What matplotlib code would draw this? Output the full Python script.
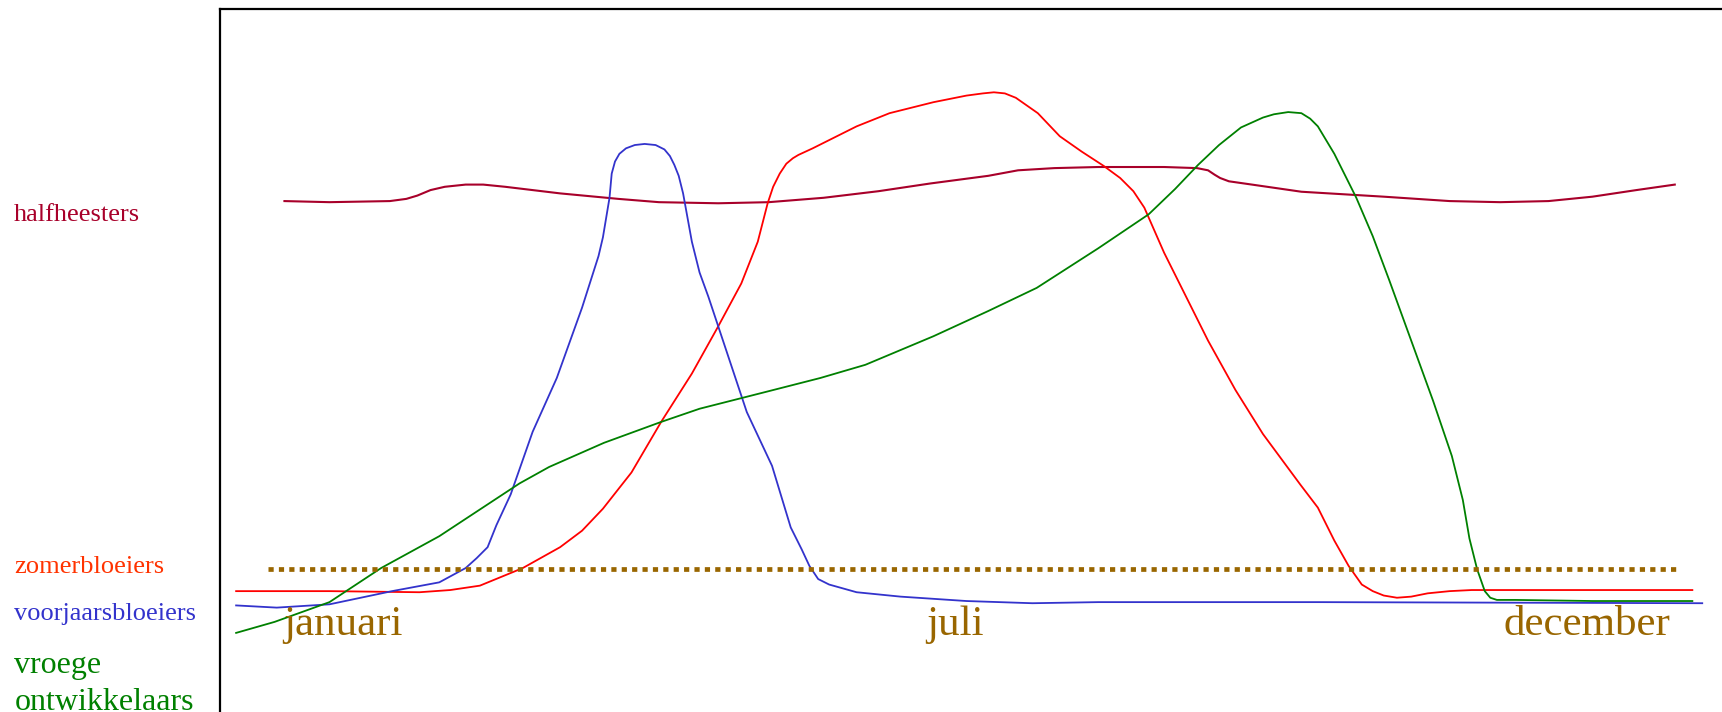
import matplotlib
matplotlib.use('Agg')
import matplotlib.pyplot as plt

plt.rcParams['font.family'] = ['Liberation Serif', 'DejaVu Serif']

# schematic bloom curves: x = position in the year (axis units), y = height
half_x = [259, 300, 355, 370, 380, 392, 405, 424, 440, 460, 510, 563, 600, 654, 700, 750, 800,
          847, 900, 927, 960, 1000, 1060, 1090, 1100, 1106, 1111, 1119, 1140, 1185, 1260, 1320,
          1366, 1410, 1450, 1490, 1525]
half_y = [465, 464, 465, 467, 470, 475, 478, 480, 480, 478, 472, 467, 464, 463, 464, 468, 474,
          481, 488, 493, 495, 496, 496, 495, 493, 489, 486, 483, 480, 473.5, 469, 465,
          464, 465, 469, 475, 480]

zomer_x = [215, 300, 382, 410, 437, 476, 510, 530, 549, 575, 602, 630, 654, 675, 690, 699, 704,
           710, 716, 722, 727, 740, 750, 780, 810, 850, 880, 895, 905, 915, 925, 935, 945, 965,
           985, 1005, 1020, 1032, 1042, 1060, 1080, 1100, 1125, 1150, 1184, 1200, 1215, 1228,
           1240, 1250, 1260, 1272, 1285, 1300, 1320, 1340, 1541]
zomer_y = [110, 110, 109, 111, 115, 131, 150, 165, 185, 218, 264, 308, 351, 390, 428, 463, 478,
           490, 499, 504, 507, 513, 518, 533, 545, 555, 561, 563, 564, 563, 559, 552, 545, 524,
           510, 497, 486, 474, 459, 418, 378, 338, 293, 253, 207, 186, 156, 133,
           116, 110, 106, 104, 105, 108, 110, 111, 111]

voorjaar_x = [215, 252, 300, 357, 400, 424, 434, 444, 452, 465, 485, 507, 530, 545, 549, 552, 555,
              557, 560, 564, 570, 578, 587, 597, 605, 610, 614, 618, 622, 626, 630, 637, 645, 660,
              680, 703, 720, 730, 737, 745, 755, 780, 820, 880, 940, 1000, 1200, 1550]
voorjaar_y = [97, 95, 98, 110, 118, 131, 140, 150, 170, 198, 255, 304, 368, 415, 432, 450, 468,
              490, 501, 508, 513, 516, 517, 516, 512, 506, 498, 488, 472, 450, 428, 400, 378, 333,
              273, 224, 168, 148, 133, 121, 116, 109, 105, 101, 99, 100, 100, 99]

vroeg_x = [215, 250, 300, 347, 400, 473, 500, 550, 602, 637, 700, 747, 788, 850, 900, 944, 1000,
           1046, 1070, 1091, 1110, 1130, 1150, 1160, 1173, 1185, 1193, 1200, 1215, 1235, 1250,
           1265, 1285, 1305, 1322, 1332, 1338, 1345, 1352, 1357, 1363, 1380, 1450, 1541]
vroeg_y = [72, 82, 100, 131, 160, 208, 223, 245, 264, 276, 292, 304, 316, 342, 365, 386, 422,
           453, 476, 498, 516, 532, 541, 544, 546, 545, 540, 533, 508, 468, 433,
           393, 338, 283, 233, 193, 158, 130, 110, 104, 102, 102, 101, 101]

groups = ['halfheesters', 'zomerbloeiers', 'voorjaarsbloeiers', 'vroege\nontwikkelaars']
months = ['januari', 'juli', 'december']
month_x = [258, 843, 1369]
threshold = 130

fig = plt.figure(figsize=(17.22, 7.12), dpi=100)
ax = fig.add_axes([200 / 1568, 0, 1 - 200 / 1568, 1 - 8 / 648])
ax.set_xlim(200, 1568)
ax.set_ylim(0, 640)
ax.set_xticks([])
ax.set_yticks([])
for s in ['right', 'bottom']:
    ax.spines[s].set_visible(False)
ax.spines['top'].set_linewidth(1.6)
ax.spines['left'].set_linewidth(1.6)

ax.plot(half_x, half_y, color='#a8002a', lw=1.5, solid_joinstyle='round')
ax.plot(zomer_x, zomer_y, color='#ff0000', lw=1.3, solid_joinstyle='round')
ax.plot(voorjaar_x, voorjaar_y, color='#3333cc', lw=1.3, solid_joinstyle='round')
ax.plot(vroeg_x, vroeg_y, color='#008000', lw=1.3, solid_joinstyle='round')

ax.plot([244, 1526], [threshold, threshold], color='#996600', lw=3.4,
        linestyle=(0, (1.1, 1.1)), dash_capstyle='butt')

for m, mx in zip(months, month_x):
    ax.text(mx, 70, m, color='#996600', fontsize=31, ha='left', va='baseline')

fig.text(0.0083, 0.6896, groups[0], color='#a8002a', fontsize=19, va='baseline')
fig.text(0.0083, 0.1957, groups[1], color='#ff3300', fontsize=19, va='baseline')
fig.text(0.0083, 0.1292, groups[2], color='#3333cc', fontsize=19, va='baseline')
g1, g2 = groups[3].split('\n')
fig.text(0.0083, 0.0548, g1, color='#008000', fontsize=23, va='baseline')
fig.text(0.0083, 0.0028, g2, color='#008000', fontsize=23, va='baseline')

fig.savefig('out.png', dpi=100)
